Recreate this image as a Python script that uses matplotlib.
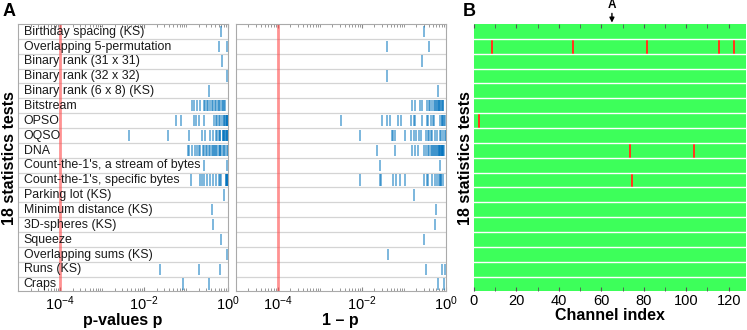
import numpy as np
import matplotlib
matplotlib.use("Agg")
import matplotlib.pyplot as plt
from matplotlib.colors import ListedColormap
from matplotlib.ticker import LogLocator, NullFormatter, FixedLocator

plt.rcParams['font.family'] = ['Liberation Sans', 'DejaVu Sans']
plt.rcParams['mathtext.fontset'] = 'custom'
plt.rcParams['mathtext.rm'] = 'Liberation Sans'
plt.rcParams['mathtext.it'] = 'Liberation Sans:italic'

tests = ["Birthday spacing (KS)", "Overlapping 5-permutation", "Binary rank (31 x 31)",
         "Binary rank (32 x 32)", "Binary rank (6 x 8) (KS)", "Bitstream", "OPSO", "OQSO",
         "DNA", "Count-the-1's, a stream of bytes", "Count-the-1's, specific bytes",
         "Parking lot (KS)", "Minimum distance (KS)", "3D-spheres (KS)", "Squeeze",
         "Overlapping sums (KS)", "Runs (KS)", "Craps"]

# p-values per test
p_birthday = [0.70]
p_ovl5perm = [0.60, 0.96]
p_rank31 = [0.72]
p_rank32 = [0.96]
p_rank6x8 = [0.35]
p_bitstream = [0.14, 0.155, 0.18, 0.21, 0.27, 0.29, 0.31, 0.34, 0.37, 0.41, 0.45, 0.48,
               0.52, 0.57, 0.60, 0.64, 0.73, 0.76, 0.81, 0.84]
p_opso = [0.059, 0.075, 0.156, 0.17, 0.20, 0.27, 0.46, 0.51, 0.55, 0.61, 0.65, 0.73,
          0.81, 0.82, 0.851, 0.913, 0.927, 0.953, 0.960, 0.969, 0.9967]
p_oqso = [0.0043, 0.037, 0.115, 0.24, 0.28, 0.37, 0.45, 0.52, 0.56, 0.60, 0.63, 0.66,
          0.74, 0.77, 0.80, 0.82, 0.851, 0.893, 0.937, 0.944, 0.948, 0.991]
p_dna = [0.11, 0.12, 0.14, 0.16, 0.18, 0.20, 0.22, 0.25, 0.27, 0.30, 0.32, 0.35, 0.38,
         0.41, 0.44, 0.47, 0.50, 0.53, 0.56, 0.60, 0.63, 0.66, 0.69, 0.78, 0.81, 0.84,
         0.938, 0.977]
p_count_stream = [0.27, 0.973]
p_count_specific = [0.13, 0.21, 0.24, 0.27, 0.31, 0.37, 0.45, 0.52, 0.61, 0.64, 0.70,
                    0.89, 0.918, 0.935, 0.944, 0.971, 0.973, 0.991]
p_parking = [0.82]
p_mindist = [0.42]
p_spheres = [0.45]
p_squeeze = [0.69]
p_ovlsums = [0.958]
p_runs = [0.024, 0.20, 0.66]
p_craps = [0.084, 0.35]

pvals = [p_birthday, p_ovl5perm, p_rank31, p_rank32, p_rank6x8, p_bitstream, p_opso,
         p_oqso, p_dna, p_count_stream, p_count_specific, p_parking, p_mindist,
         p_spheres, p_squeeze, p_ovlsums, p_runs, p_craps]

threshold = 1e-4

# failing channels per test (row index, channel index)
fail_rows = [1, 1, 1, 1, 1, 6, 8, 8, 10]
fail_channels = [8, 46, 81, 115, 122, 2, 73, 103, 74]
n_channels = 128
marked_channel = 65

fig = plt.figure(figsize=(7.47, 3.30), dpi=100)
axL = fig.add_axes([0.0245, 0.1167, 0.2807, 0.8106])
axM = fig.add_axes([0.3155, 0.1167, 0.2811, 0.8106])
axB = fig.add_axes([0.6345, 0.1167, 0.3637, 0.8106])

blue = '#0072BD'
for ax, transform in [(axL, lambda p: p), (axM, lambda p: 1 - p)]:
    for i, row in enumerate(pvals):
        vals = transform(np.array(row))
        ax.vlines(vals, i + 0.12, i + 0.88, color=blue, alpha=0.6, lw=1.2)
    for i in range(1, len(tests)):
        ax.axhline(i, color='#d4d4d4', lw=0.9, zorder=0)
    ax.axvline(threshold, color='#ff4a4a', alpha=0.6, lw=2.0)
    ax.set_xscale('log')
    ax.set_xlim(1e-5, 1)
    ax.set_ylim(len(tests), 0)
    ax.set_yticks([])
    ax.xaxis.set_major_locator(FixedLocator([1e-4, 1e-2, 1]))
    ax.set_xticklabels([r'$10^{-4}$', r'$10^{-2}$', r'$10^{0}$'])
    ax.xaxis.set_minor_locator(LogLocator(base=10, subs=np.arange(1, 10), numticks=20))
    ax.xaxis.set_minor_formatter(NullFormatter())
    ax.tick_params(axis='x', which='both', direction='in', top=True, color='#888888',
                   labelsize=10.5, pad=2)
    ax.tick_params(axis='x', which='major', length=3)
    ax.tick_params(axis='x', which='minor', length=2)
    for s in ax.spines.values():
        s.set_color('#aaaaaa')
        s.set_linewidth(0.8)

for i, name in enumerate(tests):
    axL.text(0.025, i + 0.52, name, transform=axL.get_yaxis_transform(), va='center',
             ha='left', fontsize=8.9, color='#1a1a1a')

axL.set_xlabel('p-values p', fontsize=11.5, fontweight='bold', labelpad=0)
axM.set_xlabel('1 – p', fontsize=11.5, fontweight='bold', labelpad=0)
axL.set_ylabel('18 statistics tests', fontsize=11.5, fontweight='bold', labelpad=1)

# panel B: pass / fail map
grid = np.zeros((len(tests), n_channels))
for r, c in zip(fail_rows, fail_channels):
    grid[r, c] = 1
cmap = ListedColormap(['#3dff5a', '#ff3a1a'])
axB.pcolormesh(np.arange(n_channels + 1), np.arange(len(tests) + 1), grid, cmap=cmap,
               vmin=0, vmax=1)
for i in range(1, len(tests)):
    axB.axhline(i, color='white', lw=1.0)
axB.set_xlim(0, n_channels)
axB.set_ylim(len(tests), 0)
axB.set_yticks([])
axB.set_xticks(np.arange(0, 121, 20))
axB.set_xticks(np.arange(10, 121, 20), minor=True)
axB.tick_params(axis='x', which='both', direction='in', top=True, length=3,
                color='#555555', labelsize=10.5, pad=2)
for s in axB.spines.values():
    s.set_visible(False)
axB.set_xlabel('Channel index', fontsize=11.5, fontweight='bold', labelpad=0)
axB.set_ylabel('18 statistics tests', fontsize=11.5, fontweight='bold', labelpad=1)
axB.annotate('A', xy=(marked_channel, 0), xytext=(marked_channel, -0.9),
             ha='center', va='bottom', fontsize=8.5, fontweight='bold',
             arrowprops=dict(arrowstyle='-|>', color='black', lw=1.0, shrinkA=0,
                             shrinkB=1, mutation_scale=7),
             annotation_clip=False)

fig.text(0.004, 0.965, 'A', fontsize=13, fontweight='bold', va='center')
fig.text(0.620, 0.965, 'B', fontsize=13, fontweight='bold', va='center')

fig.savefig('out.png', dpi=100)
